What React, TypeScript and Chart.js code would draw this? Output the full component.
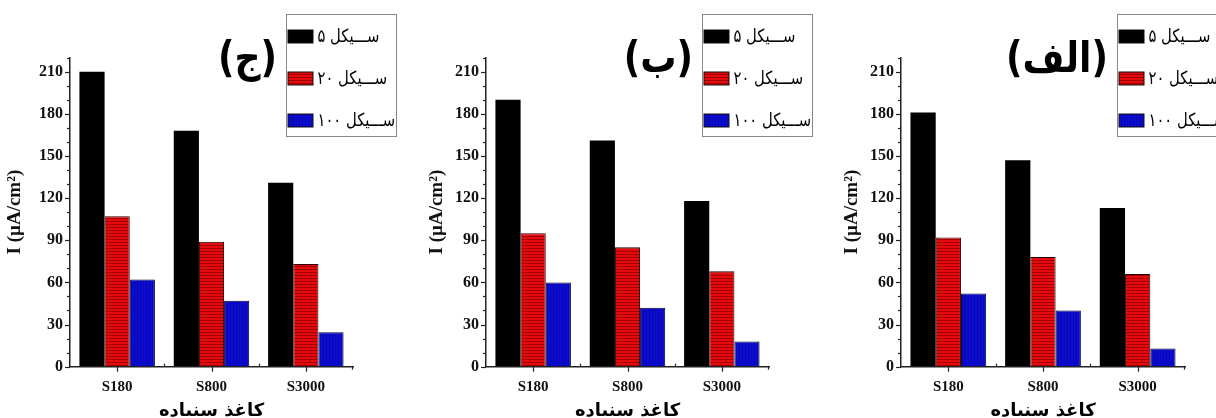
import { useEffect, useRef } from 'react';
import { Chart, registerables } from 'chart.js';

Chart.register(...registerables);

// Shared axis content
const categories = ['S180', 'S800', 'S3000'];
const cycleLabels = ['ســـیکل ۵', 'ســـیکل ۲۰', 'ســـیکل ۱۰۰'];
const yTickValues = [0, 30, 60, 90, 120, 150, 180, 210];
const yMax = 220;
const xTitle = 'کاغذ سنباده';
const yTitle = 'I (µA/cm²)';

// Panel (ج)
const jimCycle5 = [210, 168, 131];
const jimCycle20 = [107, 89, 73];
const jimCycle100 = [62, 47, 24.5];

// Panel (ب)
const beCycle5 = [190, 161, 118];
const beCycle20 = [95, 85, 68];
const beCycle100 = [60, 42, 18];

// Panel (الف)
const alefCycle5 = [181, 147, 113];
const alefCycle20 = [92, 78, 66];
const alefCycle100 = [52, 40, 13];

const SERIF = '"Liberation Serif", "Times New Roman", serif';
const ARABIC = '"DejaVu Sans", sans-serif';

function horizontalStripes(): CanvasPattern | string {
  const c = document.createElement('canvas');
  c.width = 4;
  c.height = 3;
  const g = c.getContext('2d');
  if (!g) return '#e00000';
  g.fillStyle = '#e60a0a';
  g.fillRect(0, 0, 4, 3);
  g.fillStyle = '#a00000';
  g.fillRect(0, 2, 4, 1);
  const p = g.createPattern(c, 'repeat');
  return p || '#e00000';
}

function verticalStripes(): CanvasPattern | string {
  const c = document.createElement('canvas');
  c.width = 3;
  c.height = 4;
  const g = c.getContext('2d');
  if (!g) return '#0a0ad0';
  g.fillStyle = '#0c0cd0';
  g.fillRect(0, 0, 3, 4);
  g.fillStyle = '#0707b4';
  g.fillRect(2, 0, 1, 4);
  const p = g.createPattern(c, 'repeat');
  return p || '#0a0ad0';
}

// Text drawn slightly condensed horizontally
function condensedText(ctx: CanvasRenderingContext2D, text: string, x: number, y: number, sx: number) {
  ctx.save();
  ctx.translate(x, y);
  ctx.scale(sx, 1);
  ctx.fillText(text, 0, 0);
  ctx.restore();
}

// Minor/major tick marks, the panel letter and the boxed legend
function panelDecor(letter: string) {
  return {
    id: 'panelDecor',
    afterDraw(chart: any) {
      const { ctx, chartArea: ca, scales } = chart;
      const xs = scales.x;
      const ys = scales.y;
      ctx.save();
      ctx.strokeStyle = '#222';
      ctx.lineWidth = 1.2;

      for (let v = 0; v <= yMax; v += 10) {
        const py = Math.round(ys.getPixelForValue(v)) + 0.5;
        const len = v % 30 === 0 ? 5 : 3;
        ctx.beginPath();
        ctx.moveTo(ca.left, py);
        ctx.lineTo(ca.left - len, py);
        ctx.stroke();
      }

      const centers = categories.map((_, i) => xs.getPixelForValue(i));
      centers.forEach((px: number) => {
        const x = Math.round(px) + 0.5;
        ctx.beginPath();
        ctx.moveTo(x, ca.bottom);
        ctx.lineTo(x, ca.bottom + 5);
        ctx.stroke();
      });
      for (let i = 0; i < centers.length - 1; i++) {
        const x = Math.round((centers[i] + centers[i + 1]) / 2) + 0.5;
        ctx.beginPath();
        ctx.moveTo(x, ca.bottom);
        ctx.lineTo(x, ca.bottom - 3);
        ctx.stroke();
      }
      ctx.beginPath();
      ctx.moveTo(Math.round(ca.right) - 0.5, ca.bottom);
      ctx.lineTo(Math.round(ca.right) - 0.5, ca.bottom + 3);
      ctx.stroke();

      // panel letter
      ctx.fillStyle = '#000';
      ctx.font = `bold 42px ${ARABIC}`;
      ctx.textAlign = 'right';
      ctx.textBaseline = 'middle';
      condensedText(ctx, letter, ca.left + 207, 61, 0.86);

      // legend
      const bx = Math.round(ca.left + 216) + 0.5;
      const by = 14.5;
      ctx.strokeStyle = '#888';
      ctx.lineWidth = 1;
      ctx.strokeRect(bx, by, 110, 122);
      chart.data.datasets.forEach((ds: any, i: number) => {
        const cy = 36.5 + 42 * i;
        ctx.fillStyle = ds.backgroundColor;
        ctx.fillRect(bx + 1.5, cy - 6.5, 25, 13);
        ctx.strokeStyle = '#111';
        ctx.strokeRect(bx + 1.5, cy - 6.5, 25, 13);
        ctx.fillStyle = '#000';
        ctx.font = `18px ${ARABIC}`;
        ctx.textAlign = 'left';
        ctx.textBaseline = 'middle';
        condensedText(ctx, ds.label, bx + 31, cy + 1, 0.82);
      });
      ctx.restore();
    },
  };
}

type PanelProps = {
  letter: string;
  series: number[][];
  left: number;
  width: number;
  padRight: number;
  yTitlePad: number;
};

function Panel({ letter, series, left, width, padRight, yTitlePad }: PanelProps) {
  const ref = useRef<HTMLCanvasElement>(null);

  useEffect(() => {
    const canvas = ref.current;
    if (!canvas) return;
    const fills = ['#000000', horizontalStripes(), verticalStripes()];
    const borders = ['#000000', '#2a0000', '#00002a'];
    const chart = new Chart(canvas, {
      type: 'bar',
      data: {
        labels: categories,
        datasets: series.map((vals, i) => ({
          label: cycleLabels[i],
          data: vals,
          backgroundColor: fills[i] as any,
          borderColor: borders[i],
          borderWidth: i === 0 ? 0 : 1,
          barPercentage: 1,
          categoryPercentage: 0.8,
        })),
      },
      options: {
        responsive: false,
        animation: false,
        events: [],
        layout: { padding: { left: 0, right: padRight, top: 57.6, bottom: 0 } },
        plugins: { legend: { display: false }, tooltip: { enabled: false } },
        scales: {
          x: {
            offset: true,
            grid: { display: true, drawOnChartArea: false, drawTicks: false },
            border: { display: true, color: '#222', width: 1.5 },
            ticks: {
              padding: 11,
              color: '#111',
              font: { family: SERIF, weight: 'bold', size: 15 },
            },
            title: {
              display: true,
              text: xTitle,
              color: '#000',
              padding: { top: 0, bottom: -4 },
              font: { family: ARABIC, weight: 'bold', size: 18 },
            },
            afterFit: (scale: any) => {
              scale.height = 51.33;
            },
          },
          y: {
            min: 0,
            max: yMax,
            grid: { display: true, drawOnChartArea: false, drawTicks: false },
            border: { display: true, color: '#222', width: 1.5 },
            afterBuildTicks: (scale: any) => {
              scale.ticks = yTickValues.map((v) => ({ value: v }));
            },
            ticks: {
              autoSkip: false,
              padding: 7,
              color: '#111',
              font: { family: SERIF, weight: 'bold', size: 16 },
            },
            title: {
              display: true,
              text: yTitle,
              color: '#111',
              padding: { top: yTitlePad, bottom: 0 },
              font: { family: SERIF, weight: 'bold', size: 19 },
            },
            afterFit: (scale: any) => {
              scale.width = 70;
            },
          },
        },
      },
      plugins: [panelDecor(letter)],
    });
    return () => chart.destroy();
  }, [letter, series, padRight, yTitlePad]);

  return (
    <canvas
      ref={ref}
      width={width}
      height={418}
      style={{ position: 'absolute', left, top: 0, width, height: 418 }}
    />
  );
}

const jimSeries = [jimCycle5, jimCycle20, jimCycle100];
const beSeries = [beCycle5, beCycle20, beCycle100];
const alefSeries = [alefCycle5, alefCycle20, alefCycle100];

export default function App() {
  return (
    <div
      style={{
        position: 'absolute',
        left: 0,
        top: 0,
        width: 1216,
        height: 418,
        background: '#fff',
        overflow: 'hidden',
      }}
    >
      <Panel letter="(ج)" series={jimSeries} left={0} width={400} padRight={47} yTitlePad={4} />
      <Panel letter="(ب)" series={beSeries} left={416} width={400} padRight={47} yTitlePad={10} />
      <Panel letter="(الف)" series={alefSeries} left={831} width={385} padRight={31} yTitlePad={10} />
    </div>
  );
}
